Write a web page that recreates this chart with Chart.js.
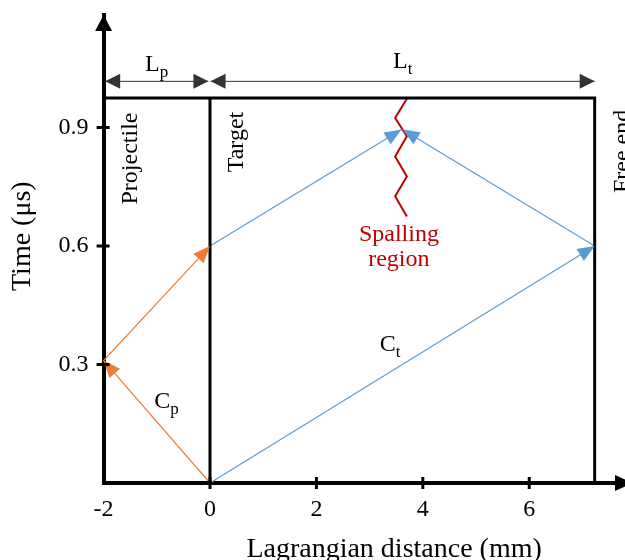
<!DOCTYPE html>
<html>
<head>
<meta charset="utf-8">
<script src="https://cdn.jsdelivr.net/npm/chart.js@4.4.0/dist/chart.umd.min.js"></script>
<style>
html, body { margin: 0; padding: 0; background: #fff; }
</style>
</head>
<body>
<canvas id="Canvasnya" width="625" height="560"></canvas>
<script>
var xTicks = [-2, 0, 2, 4, 6];
var yTicks = [0.3, 0.6, 0.9];

// stress wave paths (x = Lagrangian distance in mm, y = time in us)
var projWaveX = [0, -2, 0];
var projWaveY = [0, 0.31, 0.6];
var targetWaveX = [0, 7.23, 3.62];
var targetWaveY = [0, 0.6, 0.895];
var reflWaveX = [0, 3.6];
var reflWaveY = [0.6, 0.895];

// specimen outline
var frameX = [-2, 7.23, 7.23];
var frameY = [0.975, 0.975, 0];
var interfaceX = [0, 0];
var interfaceY = [0, 0.975];

// spalling crack
var crackX = [3.7, 3.48, 3.7, 3.48, 3.7, 3.48, 3.7];
var crackY = [0.973, 0.924, 0.878, 0.827, 0.776, 0.726, 0.675];

// dimension lines Lp / Lt
var lpX = [-1.97, -0.03];
var ltX = [0.01, 7.23];
var dimY = [1.017, 1.017];

var orange = '#ED7D31';
var blue = '#5B9BD5';
var red = '#C00000';
var serif = "'Liberation Serif', 'Times New Roman', serif";

function pts(xs, ys) {
    return xs.map(function (x, i) { return { x: x, y: ys[i] }; });
}

function line(data, color, width, extra) {
    var ds = {
        data: data,
        borderColor: color,
        backgroundColor: color,
        borderWidth: width,
        showLine: true,
        pointRadius: 0,
        tension: 0,
        clip: false
    };
    for (var k in extra) ds[k] = extra[k];
    return ds;
}

function tri(ctx, tx, ty, fx, fy, len, wid, color) {
    var a = Math.atan2(ty - fy, tx - fx);
    var c = Math.cos(a), s = Math.sin(a);
    var bx = tx - len * c, by = ty - len * s;
    ctx.beginPath();
    ctx.moveTo(tx, ty);
    ctx.lineTo(bx - wid / 2 * s, by + wid / 2 * c);
    ctx.lineTo(bx + wid / 2 * s, by - wid / 2 * c);
    ctx.closePath();
    ctx.fillStyle = color;
    ctx.fill();
}

// arrowheads at the listed [tip, from] point pairs of each dataset
var arrowPlugin = {
    id: 'arrows',
    afterDatasetsDraw: function (chart) {
        var ctx = chart.ctx;
        chart.data.datasets.forEach(function (ds, i) {
            if (!ds.arrows) return;
            var el = chart.getDatasetMeta(i).data;
            ds.arrows.forEach(function (p) {
                tri(ctx, el[p[0]].x, el[p[0]].y, el[p[1]].x, el[p[1]].y, ds.arrowLen, ds.arrowWid, ds.borderColor);
            });
        });
        // axis arrows and crossing tick marks
        var xs = chart.scales.x, ys = chart.scales.y;
        var x0 = xs.getPixelForValue(-2), y0 = ys.getPixelForValue(0);
        tri(ctx, x0, ys.getPixelForValue(1.185), x0, y0, 16, 17, '#000');
        tri(ctx, xs.getPixelForValue(7.95), y0, x0, y0, 18, 16, '#000');
        ctx.strokeStyle = '#000';
        ctx.lineWidth = 3;
        ctx.beginPath();
        xTicks.forEach(function (v) {
            if (v === -2) return;
            var px = xs.getPixelForValue(v);
            ctx.moveTo(px, y0 - 6); ctx.lineTo(px, y0 + 6);
        });
        yTicks.forEach(function (v) {
            var py = ys.getPixelForValue(v);
            ctx.moveTo(x0 - 7, py); ctx.lineTo(x0 + 6, py);
        });
        ctx.stroke();
    }
};

function txt(ctx, s, x, y, size, color, align, rot) {
    ctx.save();
    ctx.translate(x, y);
    if (rot) ctx.rotate(rot);
    ctx.font = size + 'px ' + serif;
    ctx.fillStyle = color || '#000';
    ctx.textAlign = align || 'left';
    ctx.textBaseline = 'alphabetic';
    ctx.fillText(s, 0, 0);
    var w = ctx.measureText(s).width;
    ctx.restore();
    return w;
}

function subTxt(ctx, main, sub, x, y) {
    var w = txt(ctx, main, x, y, 24);
    txt(ctx, sub, x + w, y + 6, 17);
}

var labelPlugin = {
    id: 'labels',
    afterDraw: function (chart) {
        var ctx = chart.ctx;
        var xs = chart.scales.x, ys = chart.scales.y;
        function X(v) { return xs.getPixelForValue(v); }
        function Y(v) { return ys.getPixelForValue(v); }
        var up = -Math.PI / 2;
        subTxt(ctx, 'L', 'p', X(-1.22), Y(1.043));
        subTxt(ctx, 'L', 't', X(3.44), Y(1.052));
        subTxt(ctx, 'C', 't', X(3.19), Y(0.335));
        subTxt(ctx, 'C', 'p', X(-1.05), Y(0.19));
        txt(ctx, 'Projectile', X(-1.37), Y(0.938), 24, '#000', 'right', up);
        txt(ctx, 'Target', X(0.62), Y(0.94), 24, '#000', 'right', up);
        txt(ctx, 'Free end', X(7.87), Y(0.945), 24, '#000', 'right', up);
        txt(ctx, 'Spalling', X(3.55), Y(0.613), 24, red, 'center');
        txt(ctx, 'region', X(3.55), Y(0.55), 24, red, 'center');
        txt(ctx, 'Time (\u03bcs)', 30, Y(0.625), 28, '#000', 'center', up);
        txt(ctx, 'Lagrangian distance (mm)', X(3.46), 557, 28, '#000', 'center');
    }
};

Chart.defaults.font.family = serif;
Chart.defaults.font.size = 24;
Chart.defaults.color = '#000';

var GKChart = document.getElementById('Canvasnya').getContext('2d');

var myChart = new Chart(GKChart, {
    type: 'scatter',
    data: {
        datasets: [
            line(pts(frameX, frameY), '#000', 3),
            line(pts(interfaceX, interfaceY), '#000', 3),
            line(pts(crackX, crackY), red, 2),
            line(pts(projWaveX, projWaveY), orange, 1.2, { arrows: [[1, 0], [2, 1]], arrowLen: 17, arrowWid: 14 }),
            line(pts(targetWaveX, targetWaveY), blue, 1.2, { arrows: [[1, 0], [2, 1]], arrowLen: 17, arrowWid: 14 }),
            line(pts(reflWaveX, reflWaveY), blue, 1.2, { arrows: [[1, 0]], arrowLen: 17, arrowWid: 14 }),
            line(pts(lpX, dimY), '#333', 1, { arrows: [[0, 1], [1, 0]], arrowLen: 15, arrowWid: 15 }),
            line(pts(ltX, dimY), '#333', 1, { arrows: [[0, 1], [1, 0]], arrowLen: 15, arrowWid: 15 })
        ]
    },
    options: {
        responsive: false,
        animation: false,
        devicePixelRatio: 1,
        layout: { padding: { top: 15, left: 0, right: 0, bottom: 0 } },
        plugins: { legend: { display: false }, tooltip: { enabled: false } },
        scales: {
            x: {
                type: 'linear',
                min: -2,
                max: 7.8,
                grid: { display: false, drawTicks: false },
                border: { display: true, color: '#000', width: 4 },
                ticks: { padding: 12, font: { size: 24 } },
                afterBuildTicks: function (s) { s.ticks = xTicks.map(function (v) { return { value: v }; }); },
                afterFit: function (s) { s.height = 77; s.paddingLeft = 0; s.paddingRight = 0; }
            },
            y: {
                type: 'linear',
                min: 0,
                max: 1.185,
                grid: { display: false, drawTicks: false },
                border: { display: true, color: '#000', width: 4 },
                ticks: { padding: 15, font: { size: 24 } },
                afterBuildTicks: function (s) { s.ticks = yTicks.map(function (v) { return { value: v }; }); },
                afterFit: function (s) { s.width = 103.6; s.paddingTop = 0; s.paddingBottom = 0; }
            }
        }
    },
    plugins: [arrowPlugin, labelPlugin]
});
</script>
</body>
</html>
